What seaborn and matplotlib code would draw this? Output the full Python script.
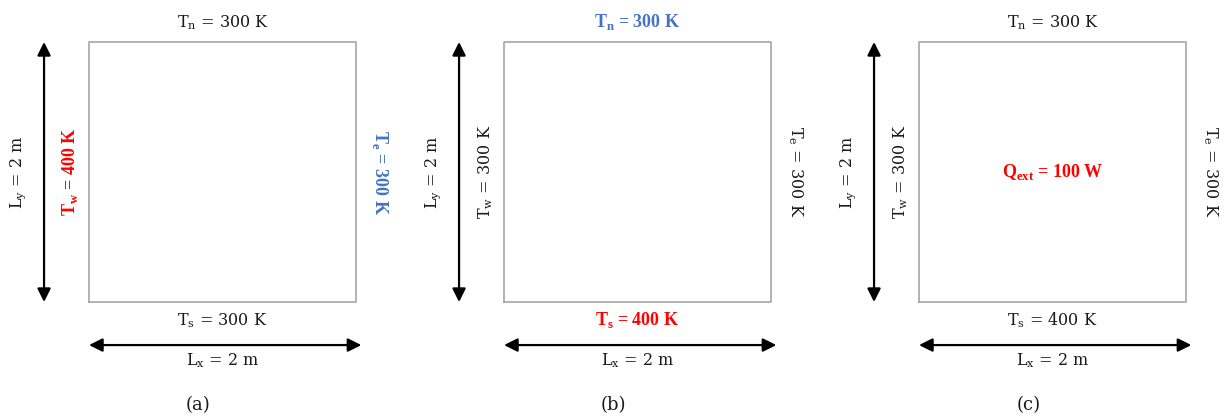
import matplotlib
matplotlib.use("Agg")
import matplotlib.pyplot as plt
import seaborn as sns

# domain and boundary conditions of the three cases
panels = ['(a)', '(b)', '(c)']
Lx = 2
Ly = 2
T_north = [300, 300, 300]
T_south = [300, 400, 400]
T_west = [400, 300, 300]
T_east = [300, 300, 300]
Q_ext = [None, None, 100]

# which labels are highlighted in each case
hot = ['w', 's', 'Q']
cold = ['e', 'n', None]

RED = '#ff0000'
BLUE = '#4472c4'
GREY = '#a6a6a6'

sns.set_style('white')
plt.rcParams['font.family'] = ['DejaVu Serif']
plt.rcParams['mathtext.fontset'] = 'custom'
plt.rcParams['mathtext.rm'] = 'DejaVu Serif'

fig = plt.figure(figsize=(12.24, 4.18), dpi=100)
fs = 11.5
fs_bold = 13


def style(i, side):
    bold = dict(fontweight='bold', fontsize=fs_bold, family='Liberation Serif')
    if hot[i] == side:
        return dict(color=RED, **bold)
    if cold[i] == side:
        return dict(color=BLUE, **bold)
    return dict(color='#1a1a1a', fontsize=fs)


for i, name in enumerate(panels):
    ax = fig.add_axes([415 * i / 1224, 0, 415 / 1224, 1])
    sns.lineplot(x=[0, Lx, Lx, 0, 0], y=[0, 0, Ly, Ly, 0], sort=False,
                 estimator=None, color=GREY, lw=1.2, ax=ax)
    ax.set_xlim(-0.667, 2.442)
    ax.set_ylim(-0.892, 2.323)
    ax.axis('off')

    # dimension arrows
    ax.annotate('', xy=(-0.337, 0.0), xytext=(-0.337, Ly),
                arrowprops=dict(arrowstyle='<|-|>', color='black', lw=1.6,
                                mutation_scale=20, shrinkA=0, shrinkB=0))
    ax.annotate('', xy=(-0.0, -0.331), xytext=(Lx + 0.04, -0.331),
                arrowprops=dict(arrowstyle='<|-|>', color='black', lw=1.6,
                                mutation_scale=20, shrinkA=0, shrinkB=0))
    ax.text(Lx / 2, -0.45, f'L$_\\mathregular{{x}}$ = {Lx} m', ha='center',
            va='center', fontsize=fs, color='#1a1a1a')
    ax.text(-0.53, Ly / 2, f'L$_\\mathregular{{y}}$ = {Ly} m', ha='center',
            va='center', fontsize=fs, rotation=90, color='#1a1a1a')

    # boundary temperatures
    ax.text(Lx / 2, Ly + 0.15, f'T$_\\mathregular{{n}}$ = {T_north[i]} K',
            ha='center', va='center', **style(i, 'n'))
    ax.text(Lx / 2, -0.14, f'T$_\\mathregular{{s}}$ = {T_south[i]} K',
            ha='center', va='center', **style(i, 's'))
    ax.text(-0.14, Ly / 2, f'T$_\\mathregular{{w}}$ = {T_west[i]} K',
            ha='center', va='center', rotation=90, **style(i, 'w'))
    ax.text(Lx + 0.18, Ly / 2, f'T$_\\mathregular{{e}}$ = {T_east[i]} K',
            ha='center', va='center', rotation=-90, **style(i, 'e'))
    if Q_ext[i] is not None:
        ax.text(Lx / 2, Ly / 2, f'Q$_\\mathregular{{ext}}$ = {Q_ext[i]} W',
                ha='center', va='center', **style(i, 'Q'))

    ax.text(0.82, -0.79, name, ha='center', va='center', fontsize=13,
            color='#1a1a1a')

fig.savefig('out.png', dpi=100)
